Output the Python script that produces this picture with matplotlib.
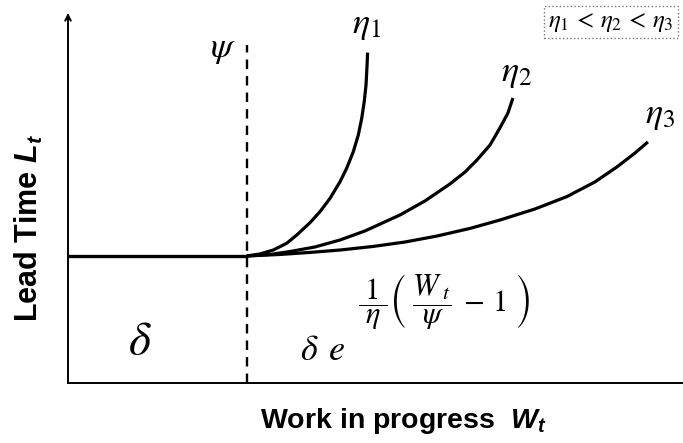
import matplotlib
matplotlib.use('Agg')
import matplotlib.pyplot as plt

plt.rcParams['font.family'] = ['Liberation Sans', 'DejaVu Sans']
plt.rcParams['font.sans-serif'] = ['Liberation Sans']
plt.rcParams['mathtext.fontset'] = 'stix'
plt.rcParams['mathtext.bfit'] = 'Liberation Sans:italic:bold'
plt.rcParams['mathtext.bf'] = 'Liberation Sans:bold'
plt.rcParams['mathtext.rm'] = 'Liberation Sans'

# W / psi and L / delta
flat_x = [0.0, 1.0]
flat_y = [1.0, 1.0]

eta1_x = [0.998, 1.073, 1.147, 1.222, 1.278, 1.352, 1.408, 1.464, 1.520,
          1.557, 1.594, 1.622, 1.641, 1.655, 1.665, 1.670, 1.674]
eta1_y = [1.0, 1.016, 1.047, 1.100, 1.165, 1.262, 1.349, 1.454, 1.585,
          1.691, 1.821, 1.953, 2.084, 2.215, 2.346, 2.478, 2.601]

eta2_x = [1.0, 1.128, 1.240, 1.380, 1.520, 1.659, 1.855, 1.994, 2.134,
          2.218, 2.285, 2.358, 2.413, 2.458, 2.486]
eta2_y = [1.0, 1.012, 1.035, 1.071, 1.126, 1.197, 1.323, 1.433, 1.567,
          1.661, 1.756, 1.874, 2.008, 2.126, 2.244]

eta3_x = [1.0, 1.184, 1.352, 1.520, 1.704, 1.883, 2.061, 2.246, 2.413,
          2.609, 2.788, 2.944, 3.067, 3.168, 3.240]
eta3_y = [1.0, 1.012, 1.028, 1.047, 1.075, 1.110, 1.157, 1.217, 1.283,
          1.370, 1.468, 1.583, 1.701, 1.811, 1.898]

psi = 1.0
x_max = 3.436
y_max = 2.913
dash_top = 2.66

W, H = 683, 443
fig = plt.figure(figsize=(W / 100, H / 100), dpi=100)
ax = fig.add_axes([68 / W, 60 / H, 615 / W, 370 / H])
ax.set_xlim(0, x_max)
ax.set_ylim(0, y_max)
ax.axis('off')

def px(x, y):
    return (x / W, 1 - y / H)

# axes: bottom line + left arrow
ax.plot([0, x_max], [0, 0], color='black', lw=1.4, clip_on=False)
ax.annotate('', xy=(0, y_max), xytext=(0, 0),
            arrowprops=dict(arrowstyle='->', lw=1.4, color='black',
                            shrinkA=0, shrinkB=0, mutation_scale=10))

ax.plot([psi, psi], [0, dash_top], color='black', lw=1.7,
        linestyle=(0, (4, 3)))

ax.plot(flat_x, flat_y, color='black', lw=2.4, solid_capstyle='butt')
for xs, ys in [(eta1_x, eta1_y), (eta2_x, eta2_y), (eta3_x, eta3_y)]:
    ax.plot(xs, ys, color='black', lw=2.3, solid_joinstyle='round',
            solid_capstyle='butt')

# labels
serif = dict(color='black', math_fontfamily='stix')
fig.text(*px(223, 49), r'$\psi$', fontsize=26, ha='center', va='center', **serif)
fig.text(*px(367, 24), r'$\eta_{\mathit{1}}$', fontsize=26, ha='center', va='center', **serif)
fig.text(*px(517, 73), r'$\eta_{\mathit{2}}$', fontsize=26, ha='center', va='center', **serif)
fig.text(*px(660, 114), r'$\eta_{\mathit{3}}$', fontsize=26, ha='center', va='center', **serif)
fig.text(*px(140, 342), r'$\delta$', fontsize=34, ha='center', va='center', **serif)
fig.text(*px(323, 350), r'$\delta\;\,e$', fontsize=26, ha='center', va='center', **serif)
fig.text(*px(444, 302),
         r'$\dfrac{\;1\;}{\eta}\left(\;\dfrac{W_{\;t}}{\psi}\;-\,1\;\right)$',
         fontsize=22, ha='center', va='center', **serif)

fig.text(*px(611, 22), r'$\eta_1\,<\,\eta_2\,<\,\eta_3$', fontsize=18,
         ha='center', va='center', color='black', math_fontfamily='stix',
         bbox=dict(boxstyle='square,pad=0.15', fc='white', ec='#777777',
                   ls=':', lw=1))

fig.text(*px(403, 421), r'Work in progress  $\mathbfit{W_t}$', fontsize=20.5,
         fontweight='bold', ha='center', va='center', math_fontfamily='custom')
fig.text(*px(29, 228), r'Lead Time $\mathbfit{L_t}$', fontsize=22,
         fontweight='bold', ha='center', va='center', rotation=90,
         math_fontfamily='custom')

fig.savefig('out.png', dpi=100, facecolor='white')
